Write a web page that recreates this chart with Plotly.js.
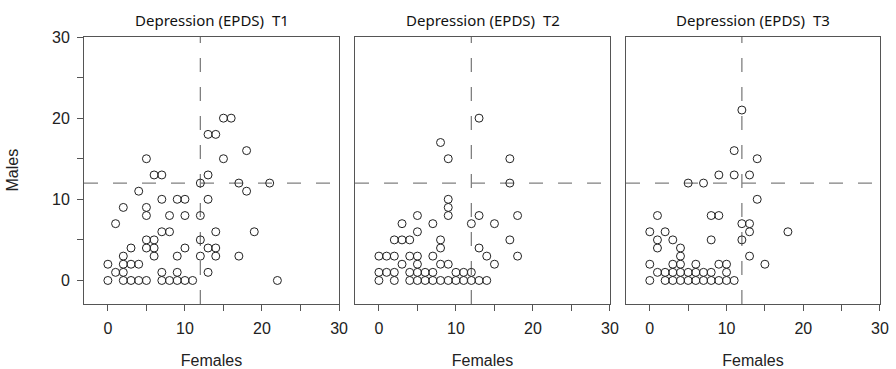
<!DOCTYPE html>
<html>
<head>
<meta charset="utf-8">
<script src="https://cdn.plot.ly/plotly-3.0.1.min.js"></script>
<style>html,body{margin:0;padding:0;background:#fff;}#chart{width:896px;height:369px;}</style>
</head>
<body>
<div id="chart"></div>
<script>
// ---- data ----
var panelTitles = ["Depression (EPDS)  T1", "Depression (EPDS)  T2", "Depression (EPDS)  T3"];
var xTitle = "Females";
var yTitle = "Males";
var cutoff = 12;
var tickValues = [0, 5, 10, 15, 20, 25, 30];
var tickLabels = ["0", "", "10", "", "20", "", "30"];

var t1Females = [0,2,3,4,5,7,8,9,10,11,22, 1,2,7,9,13, 0,2,3,4, 2,6,9,12,14,17, 3,5,6,10,13,14, 5,6,12, 7,8,14,19, 1, 5,8,10,12, 2,5, 7,9,10,13, 4,18, 12,17,21, 6,7,13, 5,15, 18, 13,14, 15,16];
var t1Males   = [0,0,0,0,0,0,0,0,0,0,0, 1,1,1,1,1, 2,2,2,2, 3,3,3,3,3,3, 4,4,4,4,4,4, 5,5,5, 6,6,6,6, 7, 8,8,8,8, 9,9, 10,10,10,10, 11,11, 12,12,12, 13,13,13, 15,15, 16, 18,18, 20,20];

var t2Females = [0,2,4,5,6,7,8,9,10,11,12,13,14, 0,1,2,4,5,6,7,10,11,12, 3,5,8,9,15, 0,1,2,4,5,7,14,18, 8,13, 2,3,4,8,17, 5, 3,7,12,15, 5,9,13,18, 9, 9, 17, 9,17, 8, 13];
var t2Males   = [0,0,0,0,0,0,0,0,0,0,0,0,0, 1,1,1,1,1,1,1,1,1,1, 2,2,2,2,2, 3,3,3,3,3,3,3,3, 4,4, 5,5,5,5,5, 6, 7,7,7,7, 8,8,8,8, 9, 10, 12, 15,15, 17, 20];

var t3Females = [0,2,3,4,5,6,7,8,9,10,11, 1,2,3,4,5,6,7,8,10, 0,3,4,6,9,10,15, 4,13, 1,4, 1,3,8,12, 0,2,13,18, 12,13, 1,8,9, 14, 5,7, 9,11,13, 14, 11, 12];
var t3Males   = [0,0,0,0,0,0,0,0,0,0,0, 1,1,1,1,1,1,1,1,1, 2,2,2,2,2,2,2, 3,3, 4,4, 5,5,5,5, 6,6,6,6, 7,7, 8,8,8, 10, 12,12, 13,13,13, 15, 16, 21];

// ---- drawing ----
var panels = [[t1Females, t1Males], [t2Females, t2Males], [t3Females, t3Males]];
var domains = [[0, 0.3204], [0.3405, 0.6608], [0.6809, 1]];
var tickFont = {family: "Liberation Sans, Arial, sans-serif", size: 16, color: "#222"};
var titleFont = {family: "Noto Sans, Open Sans, sans-serif", size: 15, color: "#111"};
var refLine = {color: "#808080", width: 1.3, dash: "14px,15px"};

var traces = [];
var layout = {
  width: 896, height: 369,
  margin: {l: 84, r: 16, t: 37, b: 65},
  paper_bgcolor: "#fff", plot_bgcolor: "#fff",
  showlegend: false,
  shapes: [], annotations: []
};

panels.forEach(function (p, i) {
  var sx = i === 0 ? "" : String(i + 1);
  traces.push({
    type: "scatter", mode: "markers",
    x: p[0], y: p[1],
    xaxis: "x" + sx, yaxis: "y" + sx,
    marker: {symbol: "circle-open", size: 8, color: "#222", line: {width: 1, color: "#222"}},
    hoverinfo: "x+y"
  });
  layout["xaxis" + sx] = {
    domain: domains[i], anchor: "y" + sx,
    range: [-3.1, 30], tickmode: "array", tickvals: tickValues, ticktext: tickLabels,
    ticks: "outside", ticklen: 6, tickcolor: "#555", tickwidth: 1, ticklabelstandoff: 4,
    showline: true, mirror: true, linecolor: "#555", linewidth: 1,
    showgrid: false, zeroline: false, tickfont: tickFont,
    title: {text: xTitle, font: tickFont, standoff: 18}
  };
  layout["yaxis" + sx] = {
    domain: [0, 1], anchor: "x" + sx,
    range: [-2.9, 30],
    tickmode: "array", tickvals: i === 0 ? tickValues : [], ticktext: i === 0 ? tickLabels : [],
    ticks: i === 0 ? "outside" : "", ticklen: 6, tickcolor: "#555", tickwidth: 1, ticklabelstandoff: 4,
    showticklabels: i === 0,
    showline: true, mirror: true, linecolor: "#555", linewidth: 1,
    showgrid: false, zeroline: false, tickfont: tickFont
  };
  layout.shapes.push({type: "line", xref: "x" + sx, yref: "y" + sx + " domain", x0: cutoff, x1: cutoff, y0: 0, y1: 1, line: refLine, layer: "below"});
  layout.shapes.push({type: "line", xref: "x" + sx + " domain", yref: "y" + sx, x0: 0, x1: 1, y0: cutoff, y1: cutoff, line: refLine, layer: "below"});
  layout.annotations.push({
    text: panelTitles[i], xref: "paper", yref: "paper",
    x: (domains[i][0] + domains[i][1]) / 2, y: 1, xanchor: "center", yanchor: "bottom",
    yshift: 5, showarrow: false, font: titleFont
  });
});
layout.annotations.push({
  text: yTitle, xref: "paper", yref: "paper", x: 0, y: 0.5, xshift: -72,
  xanchor: "center", yanchor: "middle", textangle: -90, showarrow: false, font: tickFont
});

Plotly.newPlot("chart", traces, layout, {staticPlot: true, displayModeBar: false});
</script>
</body>
</html>
